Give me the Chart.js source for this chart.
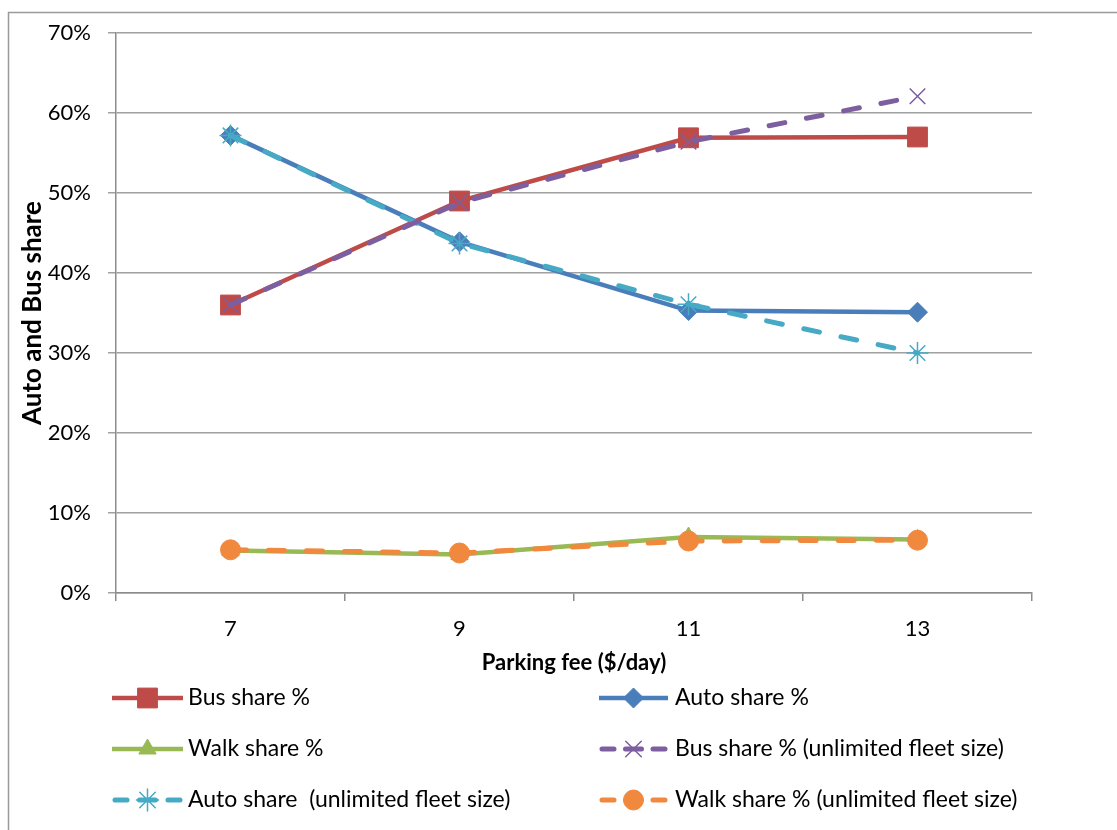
<!DOCTYPE html>
<html>
<head>
<meta charset="utf-8">
<script src="https://cdn.jsdelivr.net/npm/chart.js@4"></script>
<style>
  html, body { margin: 0; padding: 0; background: #fff; }
  #wrap { width: 1117px; height: 830px; position: relative; }
</style>
</head>
<body>
<div id="wrap"><canvas id="myChart" width="1117" height="830"></canvas></div>
<script>
// parking fee categories and mode shares (fractions)
var fees = ['7', '9', '11', '13'];
var busShare = [0.36, 0.49, 0.569, 0.57];
var autoShare = [0.572, 0.439, 0.353, 0.351];
var walkShare = [0.053, 0.048, 0.07, 0.067];
var busShareUnl = [0.36, 0.488, 0.564, 0.621];
var autoShareUnl = [0.572, 0.437, 0.361, 0.30];
var walkShareUnl = [0.054, 0.05, 0.065, 0.066];
var seriesNames = ['Bus share %', 'Auto share %', 'Walk share %',
  'Bus share % (unlimited fleet size)', 'Auto share  (unlimited fleet size)', 'Walk share % (unlimited fleet size)'];

var FONT = 'Lato, "Open Sans", sans-serif';

function mkSet(i, data, color, style, radius, dashed) {
  return {
    label: seriesNames[i],
    data: data,
    borderColor: color,
    backgroundColor: color,
    pointBackgroundColor: color,
    pointBorderColor: color,
    borderWidth: dashed ? 5 : 4.5,
    borderDash: dashed ? [16, 22] : [],
    borderCapStyle: dashed ? 'round' : 'butt',
    pointStyle: style,
    pointRadius: radius,
    pointBorderWidth: (style === 'crossRot' || style === 'star') ? 1.5 : 1,
    tension: 0,
    fill: false,
    order: dashed ? 0 : 1
  };
}

// legend drawn on the canvas in two columns
var gridLegend = {
  id: 'gridLegend',
  beforeDraw: function(chart) {
    var ctx = chart.ctx;
    ctx.save();
    ctx.strokeStyle = '#9a9a9a';
    ctx.lineWidth = 1.5;
    ctx.strokeRect(8.5, 12.5, 2000, 2000);
    ctx.restore();
  },
  afterDraw: function(chart) {
    var ctx = chart.ctx;
    var cols = [{x0: 112, x1: 183, tx: 188}, {x0: 599, x1: 668, tx: 675}];
    var rows = [698, 749, 800];
    chart.data.datasets.forEach(function(ds, i) {
      var c = cols[i % 2], y = rows[Math.floor(i / 2)];
      ctx.save();
      ctx.strokeStyle = ds.borderColor;
      ctx.lineWidth = ds.borderWidth;
      ctx.lineCap = ds.borderDash.length ? 'round' : 'butt';
      ctx.beginPath();
      if (ds.borderDash.length) {
        ctx.moveTo(c.x0 + 3, y); ctx.lineTo(c.x0 + 15, y);
        ctx.moveTo(c.x1 - 15, y); ctx.lineTo(c.x1 - 3, y);
        ctx.moveTo((c.x0 + c.x1) / 2 - 8, y); ctx.lineTo((c.x0 + c.x1) / 2 + 8, y);
      } else {
        ctx.moveTo(c.x0, y); ctx.lineTo(c.x1, y);
      }
      ctx.stroke();
      ctx.fillStyle = ds.borderColor;
      ctx.lineWidth = ds.pointBorderWidth;
      Chart.helpers.drawPoint(ctx, {pointStyle: ds.pointStyle, radius: ds.pointRadius, rotation: 0, borderWidth: ds.pointBorderWidth}, (c.x0 + c.x1) / 2, y);
      ctx.fillStyle = '#000';
      ctx.font = '23px ' + FONT;
      ctx.textBaseline = 'middle';
      ctx.fillText(ds.label, c.tx, y);
      ctx.restore();
    });
  }
};

new Chart(document.getElementById('myChart').getContext('2d'), {
  type: 'line',
  data: {
    labels: fees,
    datasets: [
      mkSet(0, busShare, '#BE4B48', 'rect', 14, false),
      mkSet(1, autoShare, '#4A7EBB', 'rectRot', 10, false),
      mkSet(2, walkShare, '#98B954', 'triangle', 10, false),
      mkSet(3, busShareUnl, '#7D5FA0', 'crossRot', 11, true),
      mkSet(4, autoShareUnl, '#46AAC5', 'star', 11, true),
      mkSet(5, walkShareUnl, '#F0883E', 'circle', 10, true)
    ]
  },
  options: {
    responsive: false,
    animation: false,
    events: [],
    layout: { padding: { left: 0, top: 33, right: 85, bottom: 154 } },
    plugins: { legend: { display: false }, tooltip: { enabled: false } },
    scales: {
      x: {
        offset: true,
        afterFit: function(s) { s.height = 83; },
        grid: { offset: true, drawOnChartArea: false, tickLength: 8, color: '#8c8c8c', lineWidth: 1.5 },
        border: { color: '#8c8c8c', width: 1.5 },
        ticks: { color: '#000', padding: 15, font: { family: FONT, size: 22 } },
        title: { display: true, text: 'Parking fee ($/day)', color: '#000', padding: { top: 0, bottom: 0 },
          font: { family: FONT, size: 22, weight: 'bold' } }
      },
      y: {
        min: 0, max: 0.7,
        afterFit: function(s) { s.width = 116; },
        grid: { color: '#a0a0a0', lineWidth: 1.5, tickLength: 8 },
        border: { color: '#8c8c8c', width: 1.5 },
        ticks: { stepSize: 0.1, color: '#000', padding: 17, font: { family: FONT, size: 22 },
          callback: function(v) { return Math.round(v * 100) + '%'; } },
        title: { display: true, text: 'Auto and Bus share', color: '#000', padding: { top: 17, bottom: 0 },
          font: { family: FONT, size: 26, weight: 'bold' } }
      }
    }
  },
  plugins: [gridLegend]
});
</script>
</body>
</html>
